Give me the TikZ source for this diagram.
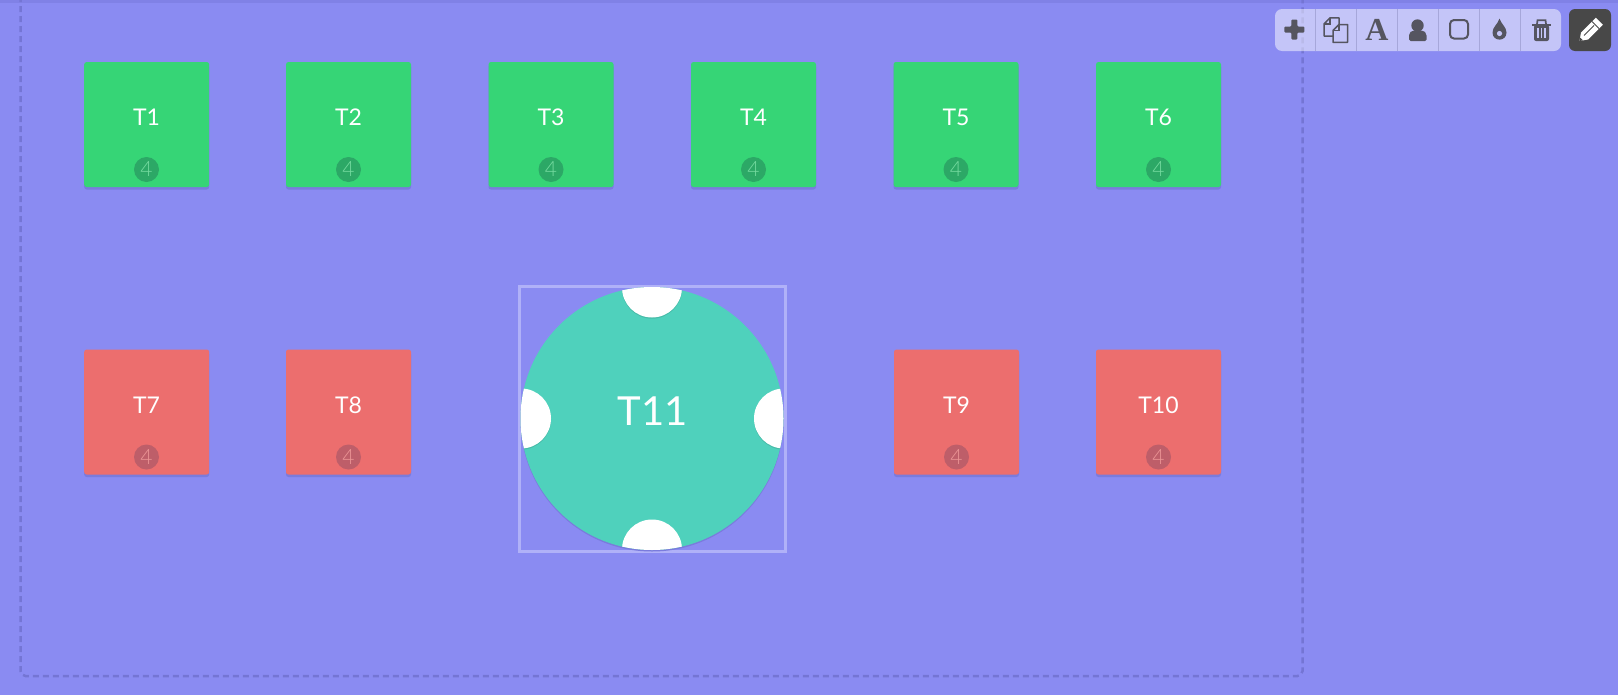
\documentclass[tikz,border=0pt]{standalone}
\usepackage{fontspec}
\setmainfont{Lato}
\newfontfamily\iconserif{Liberation Serif}
\newfontfamily\lightfour{Lato Light}
\definecolor{floorcol}{HTML}{8A8BF2}
\definecolor{bandcol}{HTML}{8081E6}
\definecolor{dashcol}{HTML}{7475D4}
\definecolor{shadowcol}{HTML}{7A7BDD}
\definecolor{greencol}{HTML}{36D576}
\definecolor{greenbadge}{HTML}{2CA866}
\definecolor{greenfour}{HTML}{74DA9F}
\definecolor{redcol}{HTML}{EC6E6E}
\definecolor{redbadge}{HTML}{BE5E69}
\definecolor{redfour}{HTML}{EC9595}
\definecolor{tealcol}{HTML}{4FD1BC}
\definecolor{framecol}{HTML}{B0B1F8}
\definecolor{iconcol}{HTML}{555560}
\definecolor{sepcol}{HTML}{A6A7DA}
\definecolor{darkcol}{HTML}{484848}
\definecolor{barcol}{HTML}{C4C5F8}
\tikzset{
  table/.style={rectangle, rounded corners=2.5pt, minimum size=125pt, inner sep=0pt,
    preaction={fill=shadowcol, transform canvas={yshift=-2.5pt}}},
  greentable/.style={table, fill=greencol},
  redtable/.style={table, fill=redcol},
  tablename/.style={text=white, inner sep=0pt, font=\fontsize{23}{23}\selectfont},
  badge/.style={circle, minimum size=25pt, inner sep=0pt, font=\lightfour\fontsize{21}{21}\selectfont},
  greenseats/.style={badge, fill=greenbadge, text=greenfour},
  redseats/.style={badge, fill=redbadge, text=redfour},
  bite/.style={circle, fill=white, minimum size=60pt, inner sep=0pt,
    preaction={fill=black, fill opacity=.1, transform canvas={yshift=-1.2pt}}},
  toolline/.style={draw=sepcol, line width=1pt},
  icon/.style={fill=iconcol},
  iconline/.style={draw=iconcol, line width=1.7pt}
}
\begin{document}
\begin{tikzpicture}[x=1pt, y=-1pt]
\useasboundingbox (0,0) rectangle (1618,694);
% Floor and its border
\fill[floorcol] (-6,-6) rectangle (1624,700);
\fill[bandcol] (-6,-6) rectangle (1624,3);
\draw[dashcol, line width=2.5pt, dash pattern=on 6pt off 4pt, rounded corners=5pt] (20.5,-4) -- (20.5,676) -- (1302.5,676) -- (1302.5,-4);

% Top row of tables
\node[greentable] (t1) at (146.7,124.5) {};
\node[tablename] (t1name) at (146.5,117) {T1};
\node[greenseats] (t1seats) at (146.5,169.5) {4};
\node[greentable] (t2) at (348.5,124.5) {};
\node[tablename] (t2name) at (348.5,117) {T2};
\node[greenseats] (t2seats) at (348.5,169.5) {4};
\node[greentable] (t3) at (551,124.5) {};
\node[tablename] (t3name) at (551,117) {T3};
\node[greenseats] (t3seats) at (551,169.5) {4};
\node[greentable] (t4) at (753.5,124.5) {};
\node[tablename] (t4name) at (753.5,117) {T4};
\node[greenseats] (t4seats) at (753.5,169.5) {4};
\node[greentable] (t5) at (956,124.5) {};
\node[tablename] (t5name) at (956,117) {T5};
\node[greenseats] (t5seats) at (956,169.5) {4};
\node[greentable] (t6) at (1158.5,124.5) {};
\node[tablename] (t6name) at (1158.5,117) {T6};
\node[greenseats] (t6seats) at (1158.5,169.5) {4};

% Bottom row of tables
\node[redtable] (t7) at (146.7,412) {};
\node[tablename] (t7name) at (146.5,405) {T7};
\node[redseats] (t7seats) at (146.5,457) {4};
\node[redtable] (t8) at (348.5,412) {};
\node[tablename] (t8name) at (348.5,405) {T8};
\node[redseats] (t8seats) at (348.5,457) {4};
\node[redtable] (t9) at (956.5,412) {};
\node[tablename] (t9name) at (956.5,405) {T9};
\node[redseats] (t9seats) at (956.5,457) {4};
\node[redtable] (t10) at (1158.5,412) {};
\node[tablename] (t10name) at (1158.5,405) {T10};
\node[redseats] (t10seats) at (1158.5,457) {4};

% Round table, selected
\draw[framecol, line width=3pt] (519.5,286) rectangle (785.5,551);
\node[circle, fill=tealcol, minimum size=263pt, inner sep=0pt,
  preaction={fill=shadowcol, transform canvas={yshift=-1.5pt}}] (t11) at (652,418.5) {};
\begin{scope}
\clip (652,418.5) circle (131.5pt);
\node[bite] (seatn) at (652,287.5) {};
\node[bite] (seatw) at (521,418.5) {};
\node[bite] (seate) at (784,418.5) {};
\node[bite] (seats) at (652,549.5) {};
\end{scope}
\node[text=white, inner sep=0pt, font=\fontsize{40}{40}\selectfont] (t11name) at (653,411) {T11};

% Toolbar
\fill[white, fill opacity=.5, rounded corners=7pt] (1275,9) rectangle (1561,51);
\draw[toolline] (1315.5,9) -- (1315.5,51);
\draw[toolline] (1356.5,9) -- (1356.5,51);
\draw[toolline] (1397.5,9) -- (1397.5,51);
\draw[toolline] (1438.5,9) -- (1438.5,51);
\draw[toolline] (1479.5,9) -- (1479.5,51);
\draw[toolline] (1520.5,9) -- (1520.5,51);
% plus
\fill[icon, rounded corners=1pt] (1291.3,19.5) -- (1297.3,19.5) -- (1297.3,26.5) -- (1304.3,26.5) -- (1304.3,32.5) -- (1297.3,32.5) -- (1297.3,39.5) -- (1291.3,39.5) -- (1291.3,32.5) -- (1284.3,32.5) -- (1284.3,26.5) -- (1291.3,26.5) -- cycle;
% copy
\draw[iconline, line width=1.5pt, line join=round] (1330,17.8) -- (1339,17.8) -- (1339,36) -- (1324,36) -- (1324,24) -- cycle;
\draw[iconline, line width=1.5pt, line join=round, fill=barcol] (1339,24.5) -- (1347.5,24.5) -- (1347.5,42.3) -- (1333,42.3) -- (1333,30.5) -- cycle;
\draw[iconline, line width=1.2pt] (1330,18) -- (1330,24) -- (1324,24);
\draw[iconline, line width=1.2pt] (1339,24.5) -- (1339,30.5) -- (1333,30.5);
% letter
\node[text=iconcol, inner sep=0pt, font=\iconserif\bfseries\fontsize{32}{32}\selectfont] (fonticon) at (1377,30) {A};
% person
\fill[icon] (1417.5,25.5) circle (6.2pt);
\fill[icon] (1409,41) [rounded corners=1.5pt] -- (1409,36) [rounded corners=5pt] -- (1409,30.5) -- (1426.5,30.5) [rounded corners=1.5pt] -- (1426.5,41) -- cycle;
% square
\draw[iconline, line width=2pt, rounded corners=4pt] (1450,20) rectangle (1468,38.5);
% drop
\fill[icon] (1499.5,18.5) .. controls (1501,24) and (1506.5,27) .. (1506.5,32.5) .. controls (1506.5,42) and (1492.5,42) .. (1492.5,32.5) .. controls (1492.5,27) and (1498,24) .. (1499.5,18.5) -- cycle;
\fill[barcol] (1499.5,33.5) circle (2.6pt);
% bin
\draw[iconline, line width=2pt] (1532,24.5) -- (1551,24.5);
\draw[iconline, line width=1.7pt] (1537,24) -- (1537.5,20.3) -- (1545.5,20.3) -- (1546,24);
\fill[icon, rounded corners=2pt] (1534,25) -- (1549,25) -- (1549,41) -- (1534,41) -- cycle;
\fill[barcol] (1537.2,28) rectangle (1538.7,38);
\fill[barcol] (1540.8,28) rectangle (1542.3,38);
\fill[barcol] (1544.4,28) rectangle (1545.9,38);

% Edit button
\fill[darkcol, rounded corners=6pt] (1569,9) rectangle (1611,51);
\fill[white] (1579.5,41) -- (1581,32.5) -- (1595.8,17.7) -- (1602.8,24.7) -- (1588,39.5) -- cycle;
\draw[darkcol, line width=1pt] (1592,21.5) -- (1599,28.5);
\draw[darkcol, line width=.8pt] (1584,35.5) -- (1594,25.5);
\fill[darkcol] (1579.5,41) -- (1580.2,37.5) -- (1583,40.3) -- cycle;
\end{tikzpicture}
\end{document}
